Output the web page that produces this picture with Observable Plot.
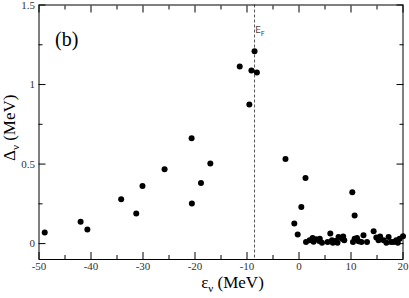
<!DOCTYPE html>
<html>
<head>
<meta charset="utf-8">
<script src="https://cdn.jsdelivr.net/npm/d3@7"></script>
<script src="https://cdn.jsdelivr.net/npm/@observablehq/plot@0.6"></script>
<style>
  html, body { margin: 0; padding: 0; background: #fff; }
  #chart svg { display: block; }
  #chart svg text { font-family: "Liberation Serif", "Times New Roman", Tinos, Times, "DejaVu Serif", serif !important; }
  #chart svg text.sans { font-family: "DejaVu Sans", sans-serif !important; }
</style>
</head>
<body>
<div id="chart"></div>
<script>
// Single-particle energies (MeV)
const epsilon = [
  -48.9, -42.0, -40.7, -34.2, -31.3, -30.1, -25.85, -20.65, -20.6, -18.85, -17.05,
  -11.4, -9.55, -9.15, -8.55, -8.1, -2.6, -0.9, -0.25, 0.45, 1.25, 10.25, 10.7,
  1.35, 2.04, 2.62, 2.8, 3.27, 3.9, 4.0, 4.42, 5.5, 6.02, 6.35, 6.5, 6.98, 7.4, 7.6,
  8.27, 8.5, 8.7, 10.38, 10.7, 11.15, 11.46, 12.0, 12.4, 13.08, 14.35, 14.87, 15.3,
  15.6, 16.27, 16.8, 17.23, 17.7, 18.2, 18.7, 19.0, 19.35, 20.0
];
// Pairing gaps (MeV)
const delta = [
  0.069, 0.138, 0.088, 0.279, 0.189, 0.362, 0.467, 0.662, 0.252, 0.381, 0.503,
  1.113, 0.874, 1.088, 1.209, 1.075, 0.532, 0.126, 0.057, 0.230, 0.413, 0.323, 0.176,
  0.010, 0.021, 0.035, 0.012, 0.027, 0.016, 0.030, 0.006, 0.010, 0.063, 0.021, 0.006, 0.016, 0.006, 0.042,
  0.031, 0.045, 0.021, 0.010, 0.030, 0.035, 0.014, 0.010, 0.052, 0.010, 0.077, 0.038, 0.021,
  0.045, 0.021, 0.006, 0.042, 0.010, 0.010, 0.021, 0.006, 0.031, 0.046
];
const fermiEnergy = -8.55;

const xMajor = [-50, -40, -30, -20, -10, 0, 10, 20];
const xMinor = [-45, -35, -25, -15, -5, 5, 15];
const yMajor = [0, 0.5, 1, 1.5];
const yMinor = [0.25, 0.75, 1.25];
const yTickLabels = ["0", "0.5", "1", "1.5"];

const data = epsilon.map((e, i) => ({e, d: delta[i]}));

const W = 409, H = 298;
const mL = 38.5, mR = 6.5, mT = 4.5, mB = 39;
const axisColor = "#000";
const serif = "Liberation Serif, serif";

const chart = Plot.plot({
  width: W,
  height: H,
  marginLeft: mL,
  marginRight: mR,
  marginTop: mT,
  marginBottom: mB,
  style: {background: "#fff", color: "#222", fontSize: "11px", overflow: "visible"},
  x: {domain: [-50, 20]},
  y: {domain: [-0.1, 1.5]},
  marks: [
    Plot.ruleX([fermiEnergy], {stroke: "#555", strokeWidth: 1, strokeDasharray: "3,2"}),
    Plot.axisX({anchor: "bottom", ticks: xMajor, tickSize: -7, tickFormat: () => "", label: null, stroke: axisColor}),
    Plot.axisX({anchor: "bottom", ticks: xMinor, tickSize: -4, tickFormat: () => "", label: null, stroke: axisColor}),
    Plot.axisX({anchor: "bottom", ticks: xMajor, tickSize: 0, tickPadding: 3, tickFormat: d => String(d), label: null, fill: "#333", fontFamily: serif, fontSize: 11}),
    Plot.axisX({anchor: "top", ticks: xMajor, tickSize: -7, tickFormat: () => "", label: null, stroke: axisColor}),
    Plot.axisX({anchor: "top", ticks: xMinor, tickSize: -4, tickFormat: () => "", label: null, stroke: axisColor}),
    Plot.axisY({anchor: "left", ticks: yMajor, tickSize: -7, tickFormat: () => "", label: null, stroke: axisColor}),
    Plot.axisY({anchor: "left", ticks: yMinor, tickSize: -4, tickFormat: () => "", label: null, stroke: axisColor}),
    Plot.axisY({anchor: "left", ticks: yMajor, tickSize: 0, tickPadding: 4, tickFormat: d => yTickLabels[yMajor.indexOf(d)], label: null, fill: "#333", fontFamily: serif, fontSize: 11}),
    Plot.axisY({anchor: "right", ticks: yMajor, tickSize: -7, tickFormat: () => "", label: null, stroke: axisColor}),
    Plot.axisY({anchor: "right", ticks: yMinor, tickSize: -4, tickFormat: () => "", label: null, stroke: axisColor}),
    Plot.frame({stroke: axisColor, strokeWidth: 1}),
    Plot.dot(data, {x: "e", y: "d", r: 3, fill: "#000", stroke: "none"}),
    Plot.text(["(b)"], {frameAnchor: "top-left", dx: 16, dy: 27, fontSize: 20, fontFamily: serif, fill: "#000", textAnchor: "start", lineAnchor: "top"})
  ]
});

document.getElementById("chart").appendChild(chart);

const svg = d3.select(chart);
const sx = chart.scale("x"), sy = chart.scale("y");
const cx = (sx.apply(-50) + sx.apply(20)) / 2 + 12;
const cy = (sy.apply(-0.1) + sy.apply(1.5)) / 2;

const xl = svg.append("text")
  .attr("x", cx).attr("y", H - 10)
  .attr("text-anchor", "middle")
  .attr("font-size", 17)
  .attr("fill", "#000");
xl.append("tspan").text("ε");
xl.append("tspan").attr("font-size", 11).attr("dy", 4).text("ν");
xl.append("tspan").attr("dy", -4).text(" (MeV)");

const yl = svg.append("text")
  .attr("transform", `translate(${15},${cy - 4}) rotate(-90)`)
  .attr("text-anchor", "middle")
  .attr("font-size", 17)
  .attr("fill", "#000");
yl.append("tspan").text("Δ");
yl.append("tspan").attr("font-size", 11).attr("dy", 4).text("ν");
yl.append("tspan").attr("dy", -4).text(" (MeV)");

const ef = svg.append("text")
  .attr("class", "sans")
  .attr("x", sx.apply(fermiEnergy) + 6)
  .attr("y", sy.apply(1.5) + 28)
  .attr("font-size", 9)
  .attr("fill", "#444");
ef.append("tspan").text("E");
ef.append("tspan").attr("font-size", 7).attr("dy", 3).text("F");
</script>
</body>
</html>
